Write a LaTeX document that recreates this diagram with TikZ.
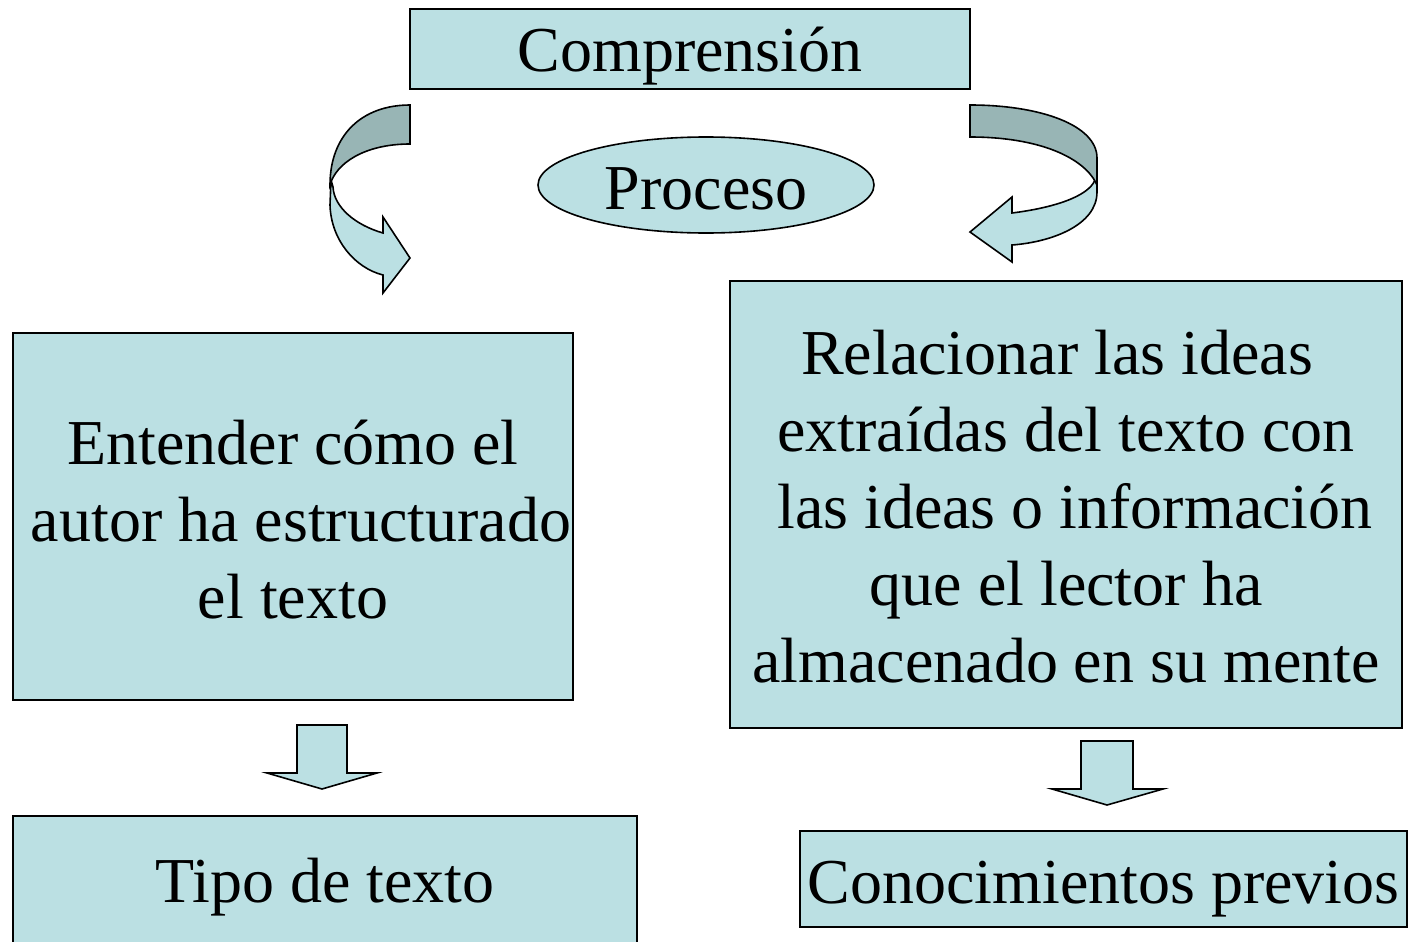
\documentclass[tikz,border=0pt]{standalone}
\usepackage{fontspec}
\setmainfont{Liberation Serif}
\usetikzlibrary{shapes.geometric}
\definecolor{lightc}{RGB}{187,224,227}
\definecolor{darkc}{RGB}{152,181,181}
\tikzset{
  box/.style={draw=black, line width=0.8pt, fill=lightc, inner sep=0pt},
  txt/.style={inner sep=0pt, align=center, font=\fontsize{32}{38.5}\selectfont},
  shapefill/.style={draw=black, line width=0.8pt, fill=lightc, line join=miter},
  darkfill/.style={draw=black, line width=0.8pt, fill=darkc},
}
\begin{document}
\begin{tikzpicture}[x=0.5pt,y=-0.5pt]
\useasboundingbox (0,0) rectangle (1409,942);
% top box
\node[box, minimum width=280pt, minimum height=40pt] (comp) at (690,49) {};
\node[txt, yshift=-3.5pt] (compt) at (comp) {Comprensión};
% ellipse
\node[box, ellipse, minimum width=168pt, minimum height=48pt] (proc) at (706,185) {};
\node[txt, yshift=-2pt] (proct) at (proc) {Proceso};
% left box
\node[box, minimum width=280pt, minimum height=183.5pt] (left) at (293,516.5) {};
\node[txt, yshift=-1.5pt] (leftt) at (left)
  {Entender cómo el\\\hspace*{8pt}autor ha estructurado\\el texto};
% right box
\node[box, minimum width=336pt, minimum height=223.5pt] (right) at (1066,504.5) {};
\node[txt, yshift=-1pt] (rightt) at (right)
  {Relacionar las ideas\hspace*{9pt}\\extraídas del texto con\\\hspace*{9pt}las ideas o información\\que el lector ha\hspace*{9pt}\\almacenado en su mente};
% bottom left box (extends beyond bottom)
\draw[shapefill] (13,960) -- (13,816) -- (637,816) -- (637,960);
\node[txt] (tipo) at (325,887) {Tipo de texto};
% bottom right box
\node[box, minimum width=303.5pt, minimum height=48pt] (cono) at (1103.5,879) {};
\node[txt, yshift=-5pt] (conot) at (cono) {Conocimientos previos};
% down arrows
\draw[shapefill] (297,725) -- (347,725) -- (347,773) -- (377,773) -- (322,789) -- (267,773) -- (297,773) -- cycle;
\draw[shapefill] (1081,741) -- (1133,741) -- (1133,789) -- (1163,789) -- (1107,805) -- (1052,789) -- (1081,789) -- cycle;
% left curved arrow
\draw[shapefill] (331,180) -- (330,205) .. controls (331,240) and (355,268) .. (383,275)
  -- (383,293) -- (410,258) -- (383,217) -- (383,233)
  .. controls (355,225) and (334,207) .. (333,187) -- cycle;
\draw[darkfill] (410,105) .. controls (362,105) and (330,135) .. (330,185)
  .. controls (336,163) and (365,144) .. (410,144) -- cycle;
% right curved arrow
\draw[shapefill] (1097,178) -- (1097,192) .. controls (1097,225) and (1052,242) .. (1012,245)
  -- (1012,262) -- (970,232) -- (1012,197) -- (1012,213)
  .. controls (1052,208) and (1088,197) .. (1095,180) -- cycle;
\draw[darkfill] (970,105) .. controls (1040,105) and (1097,125) .. (1097,158) -- (1097,185)
  .. controls (1085,158) and (1040,137) .. (970,137) -- cycle;
\end{tikzpicture}
\end{document}
